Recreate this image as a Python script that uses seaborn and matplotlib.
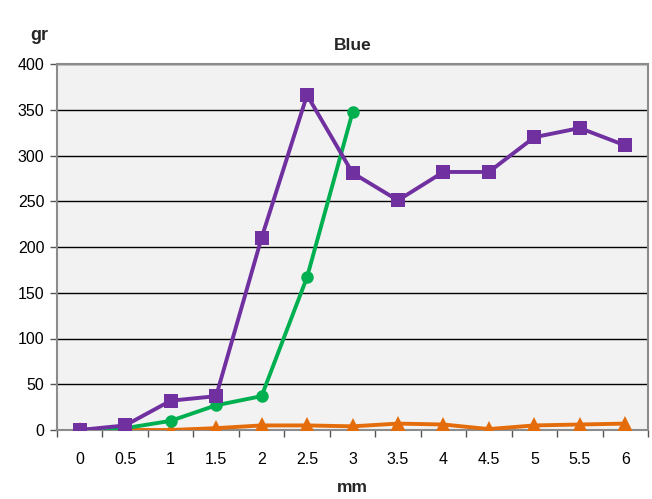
import numpy as np
import pandas as pd
import matplotlib
matplotlib.use("Agg")
import matplotlib.pyplot as plt
import seaborn as sns

categories = ["0", "0.5", "1", "1.5", "2", "2.5", "3", "3.5", "4", "4.5", "5", "5.5", "6"]
purple_vals = [0, 5, 32, 37, 210, 366, 281, 251, 282, 282, 320, 330, 311]
green_vals = [0, 2, 10, 27, 37, 167, 347]
orange_vals = [0, 0, 0, 2, 5, 5, 4, 7, 6, 1, 5, 6, 7]

rows = []
for name, vals in [("S3", orange_vals), ("S2", green_vals), ("S1", purple_vals)]:
    for i, v in enumerate(vals):
        rows.append({"series": name, "pos": i, "value": v})
df = pd.DataFrame(rows)

sns.set_theme(style="white")
plt.rcParams['font.family'] = ['Liberation Sans', 'DejaVu Sans']

fig = plt.figure(figsize=(6.52, 4.99), dpi=100)
ax = fig.add_axes([57 / 652, 69 / 499, 591 / 652, 366 / 499])
ax.set_facecolor("#f2f2f2")

palette = {"S1": "#7030a0", "S2": "#00b050", "S3": "#e46c0a"}
markers = {"S1": "s", "S2": "o", "S3": "^"}
sizes = {"S1": 10.5, "S2": 9, "S3": 12}
for name in ["S3", "S2", "S1"]:
    sub = df[df["series"] == name]
    sns.lineplot(data=sub, x="pos", y="value", color=palette[name],
                 marker=markers[name], linewidth=2.8,
                 markersize=sizes[name], markeredgewidth=0, legend=False,
                 ax=ax, zorder=3)

ax.set_xlim(-0.5, 12.5)
ax.set_ylim(0, 400)
ax.set_yticks(np.arange(0, 401, 50))
ax.set_xticks(range(len(categories)))
ax.set_xticklabels(categories)
ax.set_xticks(np.arange(-0.5, 12.6, 1), minor=True)
ax.tick_params(axis="x", which="major", length=0, pad=16, labelsize=11.5, colors="black")
ax.tick_params(axis="x", which="minor", length=5, width=1, color="#555555", bottom=True)
ax.tick_params(axis="y", which="major", length=5, width=1, color="#555555", left=True, labelsize=11.5, pad=4)
for t in ax.get_yticklabels():
    t.set_color("black")

ax.grid(axis="y", color="black", linewidth=1)
ax.set_axisbelow(True)
for side in ["left", "bottom", "right", "top"]:
    ax.spines[side].set_visible(True)
    ax.spines[side].set_color("#8c8c8c")
    ax.spines[side].set_linewidth(1.5)

ax.set_xlabel("mm", fontsize=12.5, fontweight="bold", labelpad=9)
ax.set_ylabel("")
ax.set_title("Blue", fontsize=12.5, fontweight="bold", pad=10)
fig.text(0.046, 0.928, "gr", fontsize=13, fontweight="bold", ha="left", va="center")

fig.savefig("out.png", dpi=100)
